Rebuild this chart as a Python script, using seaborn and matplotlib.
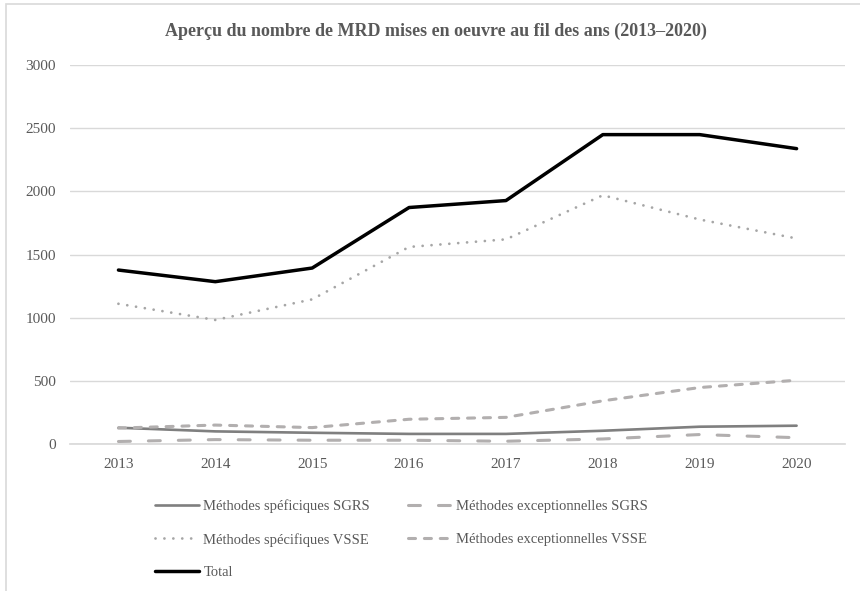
"""Aperçu du nombre de MRD mises en oeuvre (2013-2020)"""

from matplotlib import pyplot as plt
from matplotlib.patches import Rectangle
import pandas as pd
import seaborn as sns

annees = ['2013', '2014', '2015', '2016', '2017', '2018', '2019', '2020']

specifiques_sgrs = [129, 100, 89, 80, 80, 105, 137, 145]
exceptionnelles_sgrs = [20, 35, 30, 30, 22, 40, 75, 50]
specifiques_vsse = [1110, 982, 1145, 1560, 1620, 1969, 1777, 1627]
exceptionnelles_vsse = [126, 150, 130, 196, 211, 342, 447, 505]
total = [1377, 1285, 1393, 1872, 1927, 2449, 2449, 2338]

noms = [
    'Méthodes spéficiques SGRS',
    'Méthodes exceptionnelles SGRS',
    'Méthodes spécifiques VSSE',
    'Méthodes exceptionnelles VSSE',
    'Total',
]
series = [specifiques_sgrs, exceptionnelles_sgrs, specifiques_vsse,
          exceptionnelles_vsse, total]

sns.set_theme(style='white')
plt.rcParams['font.family'] = ['Liberation Serif', 'DejaVu Serif']

df = pd.DataFrame({'Année': annees * len(series),
                   'Valeur': sum(series, []),
                   'Série': [n for n in noms for _ in annees]})

# couleur, épaisseur, tirets
styles = {
    noms[0]: ('#7f7f7f', 1.9, None),
    noms[1]: ('#b2afaf', 2.2, (3.9, 5.9)),
    noms[2]: ('#a6a6a6', 2.0, (0.01, 3.2)),
    noms[3]: ('#b2afaf', 2.2, (2.3, 2.9)),
    noms[4]: ('#000000', 2.5, None),
}

fig, ax = plt.subplots(figsize=(8.6, 5.91), dpi=100)
fig.subplots_adjust(left=0.0814, right=0.9826, top=0.890, bottom=0.2487)

for nom in noms:
    couleur, lw, tirets = styles[nom]
    sns.lineplot(
        x='Année', y='Valeur', data=df[df['Série'] == nom],
        color=couleur, linewidth=lw, label=nom, ax=ax,
        solid_capstyle='round', dash_capstyle='round',
    )
    ligne = ax.get_lines()[-1]
    if tirets is not None:
        ligne.set_dashes(tirets)

ax.set_ylim(0, 3000)
ax.set_yticks(range(0, 3001, 500))
ax.set_xlim(-0.5, len(annees) - 0.5)
ax.yaxis.grid(True, color='#d9d9d9', linewidth=1)
ax.xaxis.grid(False)
sns.despine(ax=ax, left=True, bottom=True)
ax.spines['bottom'].set_visible(True)
ax.spines['bottom'].set_color('#d9d9d9')
ax.tick_params(axis='both', length=0, labelsize=11, colors='#595959', pad=10)
ax.set_xlabel('')
ax.set_ylabel('')

fig.suptitle('Aperçu du nombre de MRD mises en oeuvre au fil des ans (2013–2020)',
             x=0.507, y=0.962, fontsize=13, fontweight='bold', color='#595959')

# ordre par lignes comme dans la légende d'origine
handles, labels = ax.get_legend_handles_labels()
ordre = [0, 2, 4, 1, 3]
ax.legend([handles[i] for i in ordre], [labels[i] for i in ordre],
          ncol=2, frameon=False, fontsize=10.5,
          loc='upper left', bbox_to_anchor=(0.093, -0.112),
          handlelength=3.0, handletextpad=0.3, columnspacing=2.6,
          labelspacing=1.33, labelcolor='#595959')

# bordure de la zone de graphique
fig.patches.append(Rectangle((6 / 860, -0.05), 1.2, 1 - 4 / 591 + 0.05,
                             transform=fig.transFigure, fill=False,
                             edgecolor='#d9d9d9', linewidth=1.2))

fig.savefig('out.png', dpi=100)
